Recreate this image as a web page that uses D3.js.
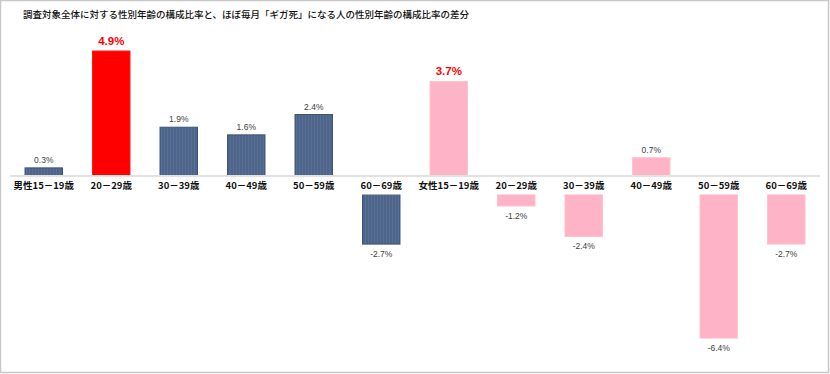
<!DOCTYPE html>
<html><head><meta charset="utf-8">
<script src="https://cdn.jsdelivr.net/npm/d3@7"></script>
<style>
html,body{margin:0;padding:0;background:#fff;}
svg{display:block;}
</style></head>
<body>
<svg id="chart" width="830" height="374"></svg>
<script>
const title = "調査対象全体に対する性別年齢の構成比率と、ほぼ毎月「ギガ死」になる人の性別年齢の構成比率の差分";
const categories = ["男性15－19歳","20－29歳","30－39歳","40－49歳","50－59歳","60－69歳","女性15－19歳","20－29歳","30－39歳","40－49歳","50－59歳","60－69歳"];
const values = [0.3, 4.9, 1.9, 1.6, 2.4, -2.7, 3.7, -1.2, -2.4, 0.7, -6.4, -2.7];
const groups = ["男性","男性","男性","男性","男性","男性","女性","女性","女性","女性","女性","女性"];
const highlighted = [1, 6];
const redBars = [1];

const svg = d3.select("#chart");
const W = 830, H = 374;
const font = "'Noto Sans CJK JP','Noto Sans',sans-serif";
const numFont = "'Liberation Sans',Arial,sans-serif";

const defs = svg.append("defs");
const pat = defs.append("pattern").attr("id","navy").attr("patternUnits","userSpaceOnUse")
  .attr("width",3).attr("height",4);
pat.append("rect").attr("width",3).attr("height",4).attr("fill","#4e6587");
pat.append("rect").attr("x",2).attr("width",1).attr("height",4).attr("fill","#57709a");

svg.append("rect").attr("x",0.5).attr("y",0.5).attr("width",W-2).attr("height",H-2)
  .attr("fill","#fff").attr("stroke","#c8c8c8").attr("stroke-width",1.5);

svg.append("text").attr("x",23).attr("y",18).attr("font-family",font)
  .attr("font-size",9.5).attr("font-weight",500).attr("fill","#111").text(title);

const idx = categories.map((d,i)=>i);
const x = d3.scaleBand().domain(idx).range([10,820]).paddingInner(0.43).paddingOuter(0.215);
const y = d3.scaleLinear().domain([0,4.9]).range([175.5,51]);

const fillFor = i => redBars.includes(i) ? "#ff0000" : (groups[i]==="男性" ? "url(#navy)" : "#ffb3c6");
const strokeFor = i => redBars.includes(i) ? "#ff1a1a" : (groups[i]==="男性" ? "#3e5478" : "#ffc2cf");

svg.append("g").selectAll("rect").data(idx).join("rect")
  .attr("x", i=>x(i)+0.5)
  .attr("width", x.bandwidth()-1)
  .attr("y", i=>y(Math.max(0,values[i])))
  .attr("height", i=>Math.abs(y(values[i])-y(0)))
  .attr("fill", fillFor)
  .attr("stroke", strokeFor).attr("stroke-width",1);

svg.append("rect").attr("x",8).attr("y",y(0)+1).attr("width",814).attr("height",18).attr("fill","#fff");

svg.append("line").attr("x1",10).attr("x2",820).attr("y1",y(0)+0.5).attr("y2",y(0)+0.5)
  .attr("stroke","#e2e2e2").attr("stroke-width",2);

svg.append("g").selectAll("text").data(idx).join("text")
  .attr("x", i=>x(i)+x.bandwidth()/2)
  .attr("y", y(0)+13.5)
  .attr("text-anchor","middle")
  .attr("font-family",font).attr("font-size",9.5).attr("font-weight",700).attr("fill","#111")
  .text(i=>categories[i]);

const fmt = v => (v<0?"-":"") + Math.abs(v).toFixed(1) + "%";
svg.append("g").selectAll("text").data(idx).join("text")
  .attr("x", i=>x(i)+x.bandwidth()/2)
  .attr("y", i=> values[i]>=0 ? y(values[i]) - (highlighted.includes(i)?6:5) : y(values[i]) + 13)
  .attr("text-anchor","middle")
  .attr("font-family", numFont)
  .attr("font-size", i=> highlighted.includes(i) ? 11.5 : 8.5)
  .attr("font-weight", i=> highlighted.includes(i) ? 700 : 400)
  .attr("fill", i=> highlighted.includes(i) ? "#ff0000" : "#404040")
  .text(i=> fmt(values[i]));
</script>
</body></html>
